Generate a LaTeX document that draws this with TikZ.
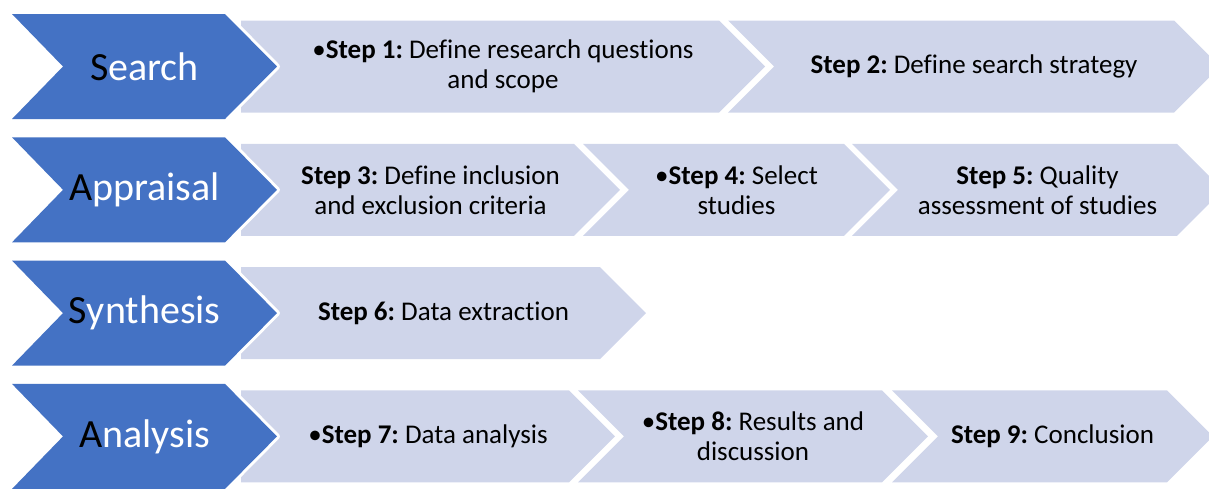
\documentclass[tikz,border=0pt]{standalone}
\usepackage{fontspec}
\setmainfont{Carlito}[Ligatures={NoCommon}]
\frenchspacing
\definecolor{phaseblue}{RGB}{68, 114, 196}
\definecolor{steplight}{RGB}{207, 213, 234}

\begin{document}
\begin{tikzpicture}[x=0.5pt, y=-0.5pt,
  phase/.style={fill=phaseblue, preaction={draw=white, line width=3pt, line join=round}},
  stepfill/.style={fill=steplight},
  phaselabel/.style={text=white, inner sep=0pt, font=\fontsize{20}{24}\selectfont},
  steplabel/.style={align=center, inner sep=0pt, font=\fontsize{13.5}{15}\selectfont}
]
  \useasboundingbox (0,0) rectangle (1209,489);
  \clip (0,0) rectangle (1209,489);

  % Row 1: Search
  \begin{scope}[shift={(0,66.5)}]
    \fill[stepfill] (241,-46) -- (719,-46) -- (765,0) -- (719,46) -- (241,46) -- cycle;
    \fill[stepfill] (728,-46) -- (1174,-46) -- (1220,0) -- (1174,46) -- (728,46) -- (774,0) -- cycle;
    \path[phase] (12,-52.5) -- (225,-52.5) -- (277,0) -- (225,52.5) -- (12,52.5) -- (63,0) -- cycle;
    \node[phaselabel] (search) at (144.5,0) {\textcolor{black}{S}earch};
    \node[steplabel] (step1) at (503,0) {•\textbf{Step 1:} Define research questions\\and scope};
    \node[steplabel] (step2) at (974,0) {\textbf{Step 2:} Define search strategy};
  \end{scope}

  % Row 2: Appraisal
  \begin{scope}[shift={(0,189.8)}]
    \fill[stepfill] (241,-46) -- (574,-46) -- (620,0) -- (574,46) -- (241,46) -- cycle;
    \fill[stepfill] (583,-46) -- (844,-46) -- (890,0) -- (844,46) -- (583,46) -- (629,0) -- cycle;
    \fill[stepfill] (852,-46) -- (1177,-46) -- (1223,0) -- (1177,46) -- (852,46) -- (898,0) -- cycle;
    \path[phase] (12,-52.5) -- (225,-52.5) -- (277,0) -- (225,52.5) -- (12,52.5) -- (63,0) -- cycle;
    \node[phaselabel] (appraisal) at (144.5,0) {\textcolor{black}{A}ppraisal};
    \node[steplabel] (step3) at (430.5,0) {\textbf{Step 3:} Define inclusion\\and exclusion criteria};
    \node[steplabel] (step4) at (736.5,0) {•\textbf{Step 4:} Select\\studies};
    \node[steplabel] (step5) at (1037.5,0) {\textbf{Step 5:} Quality\\assessment of studies};
  \end{scope}

  % Row 3: Synthesis
  \begin{scope}[shift={(0,313.1)}]
    \fill[stepfill] (241,-46) -- (600,-46) -- (646,0) -- (600,46) -- (241,46) -- cycle;
    \path[phase] (12,-52.5) -- (225,-52.5) -- (277,0) -- (225,52.5) -- (12,52.5) -- (63,0) -- cycle;
    \node[phaselabel] (synthesis) at (144.5,0) {\textcolor{black}{S}ynthesis};
    \node[steplabel] (step6) at (443.5,0) {\textbf{Step 6:} Data extraction};
  \end{scope}

  % Row 4: Analysis
  \begin{scope}[shift={(0,436.4)}]
    \fill[stepfill] (241,-46) -- (569,-46) -- (615,0) -- (569,46) -- (241,46) -- cycle;
    \fill[stepfill] (578,-46) -- (882,-46) -- (928,0) -- (882,46) -- (578,46) -- (624,0) -- cycle;
    \fill[stepfill] (892,-46) -- (1167,-46) -- (1213,0) -- (1167,46) -- (892,46) -- (938,0) -- cycle;
    \path[phase] (12,-52.5) -- (225,-52.5) -- (277,0) -- (225,52.5) -- (12,52.5) -- (63,0) -- cycle;
    \node[phaselabel] (analysis) at (144.5,0) {\textcolor{black}{A}nalysis};
    \node[steplabel] (step7) at (428,0) {•\textbf{Step 7:} Data analysis};
    \node[steplabel] (step8) at (753,0) {•\textbf{Step 8:} Results and\\discussion};
    \node[steplabel] (step9) at (1052.5,0) {\textbf{Step 9:} Conclusion};
  \end{scope}
\end{tikzpicture}
\end{document}
